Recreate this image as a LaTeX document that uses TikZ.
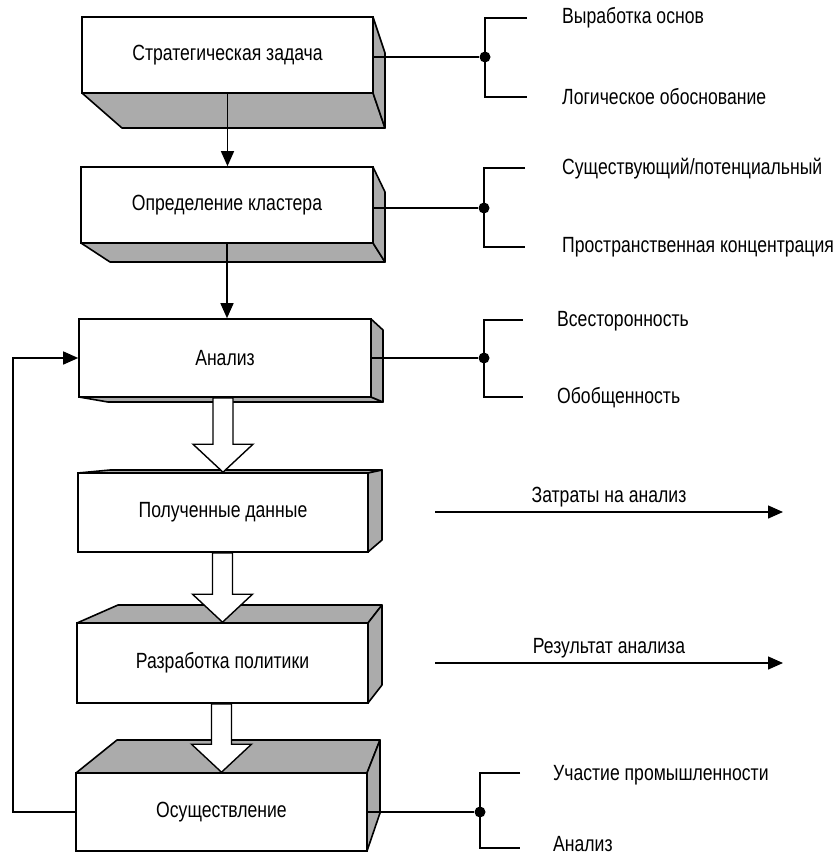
\documentclass[tikz,border=0pt]{standalone}
\usepackage{fontspec}
\setmainfont{Liberation Sans}[FakeStretch=0.8]
\usetikzlibrary{arrows.meta,calc}

\tikzset{
  box/.style={draw, line width=1.6pt, fill=white, inner sep=0pt,
              font=\fontsize{22}{24}\selectfont},
  face/.style={draw, line width=1.6pt, fill=black!33, line join=round},
  link/.style={line width=1.4pt},
  thinarrow/.style={line width=1.4pt, -{Triangle[length=15pt,width=13pt]}},
  hollow/.style={draw, line width=1.4pt, fill=white, line join=miter},
  joint/.style={circle, fill, inner sep=0pt, minimum size=11pt},
  label/.style={anchor=west, inner sep=0pt, font=\fontsize{22}{24}\selectfont},
  flowlabel/.style={inner sep=0pt, font=\fontsize{22}{24}\selectfont}
}

% broad hollow arrow from the bottom of one block to the top of the next
\newcommand\blockarrow[2]{%
  \draw[hollow] ($(#1.south -| #2.north)+(-10,0)$) -- ($(#2.north)+(-10,-28)$)
    -- ($(#2.north)+(-30,-28)$) -- (#2.north) -- ($(#2.north)+(30,-28)$)
    -- ($(#2.north)+(10,-28)$) -- ($(#1.south -| #2.north)+(10,0)$) -- cycle;}

\begin{document}
\begin{tikzpicture}[x=1pt, y=-1pt]
\useasboundingbox (0,0) rectangle (835,857);

% --- depth faces of the blocks ---
\draw[face] (82,93) -- (122,128) -- (385,128) -- (373,93) -- cycle;
\draw[face] (373,17) -- (385,53) -- (385,128) -- (373,93) -- cycle;

\draw[face] (81,243) -- (110,262) -- (385,262) -- (373,243) -- cycle;
\draw[face] (373,167) -- (385,192) -- (385,262) -- (373,243) -- cycle;

\draw[face] (79,397) -- (108,402) -- (383,402) -- (371,397) -- cycle;
\draw[face] (371,319) -- (383,330) -- (383,402) -- (371,397) -- cycle;

\draw[face] (78,473) -- (110,470) -- (382,470) -- (368,473) -- cycle;
\draw[face] (368,473) -- (382,470) -- (382,540) -- (368,552) -- cycle;

\draw[face] (77,623) -- (118,605) -- (382,605) -- (368,623) -- cycle;
\draw[face] (368,623) -- (382,605) -- (382,685) -- (368,703) -- cycle;

\draw[face] (76,773) -- (117,740) -- (380,740) -- (367,773) -- cycle;
\draw[face] (367,773) -- (380,740) -- (380,813) -- (367,851) -- cycle;

% --- front faces ---
\node[box, minimum width=291pt, minimum height=76pt] (b1) at (227.5,55) {Стратегическая задача};
\node[box, minimum width=292pt, minimum height=76pt] (b2) at (227,205) {Определение кластера};
\node[box, minimum width=292pt, minimum height=78pt] (b3) at (225,358) {Анализ};
\node[box, minimum width=290pt, minimum height=79pt] (b4) at (223,512.5) {Полученные данные};
\node[box, minimum width=291pt, minimum height=80pt] (b5) at (222.5,663) {Разработка политики};
\node[box, minimum width=291pt, minimum height=78pt] (b6) at (221.5,812) {Осуществление};

% --- main flow ---
\draw[thinarrow] (b1.south) -- (b1.south |- b2.north);
\draw[thinarrow] (b2.south) -- (b2.south |- b3.north);
\blockarrow{b3}{b4}
\blockarrow{b4}{b5}
\blockarrow{b5}{b6}

% feedback from implementation back to analysis
\coordinate (loop) at (13,0);
\draw[thinarrow] (b6.west) -- (b6.west -| loop) |- (b3.west);

% --- aspects of the blocks ---
\node[joint] (j1) at (485,57) {};
\node[joint] (j2) at (484,208) {};
\node[joint] (j3) at (484,358) {};
\node[joint] (j6) at (480,812) {};

\draw[link] (b1.east |- j1) -- (j1);
\draw[link] (b2.east |- j2) -- (j2);
\draw[link] (b3.east |- j3) -- (j3);
\draw[link] (b6.east |- j6) -- (j6);

\coordinate (s1a) at (527,18);  \coordinate (s1b) at (527,97);
\coordinate (s2a) at (525,168); \coordinate (s2b) at (525,247);
\coordinate (s3a) at (523,320); \coordinate (s3b) at (523,397);
\coordinate (s6a) at (520,773); \coordinate (s6b) at (520,848);

\draw[link] (s1a) -| (j1.center) |- (s1b);
\draw[link] (s2a) -| (j2.center) |- (s2b);
\draw[link] (s3a) -| (j3.center) |- (s3b);
\draw[link] (s6a) -| (j6.center) |- (s6b);

\node[label] (t1a) at (562,18) {Выработка основ};
\node[label] (t1b) at (562,97) {Логическое обоснование};
\node[label] (t2a) at (562,169) {Существующий/потенциальный};
\node[label] (t2b) at (562,247) {Пространственная концентрация};
\node[label] (t3a) at (557,321) {Всесторонность};
\node[label] (t3b) at (557,398) {Обобщенность};
\node[label] (t6a) at (553,775) {Участие промышленности};
\node[label, anchor=base west] (t6b) at (553,851) {Анализ};

% --- outputs ---
\coordinate (o1a) at (435,512); \coordinate (o1b) at (783,512);
\coordinate (o2a) at (435,663); \coordinate (o2b) at (783,663);
\draw[thinarrow] (o1a) -- node[flowlabel, above=4pt] (l1) {Затраты на анализ} (o1b);
\draw[thinarrow] (o2a) -- node[flowlabel, above=4pt] (l2) {Результат анализа} (o2b);
\end{tikzpicture}
\end{document}
